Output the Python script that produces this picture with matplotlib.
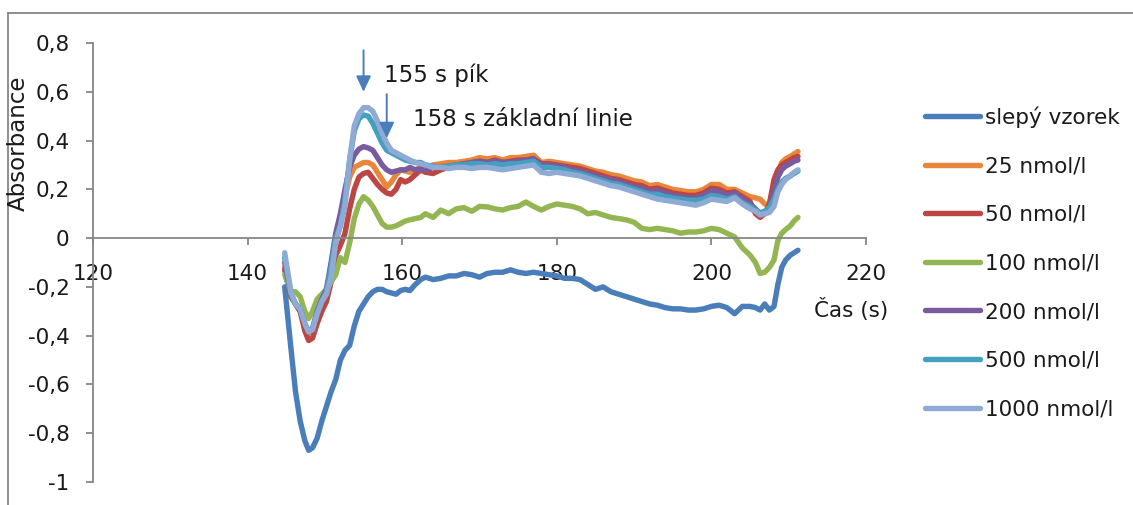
import matplotlib
matplotlib.use("Agg")
import matplotlib.pyplot as plt
from matplotlib.lines import Line2D

# Sampling times (s)
time_s = [
    144.8, 145.6, 146.2, 146.8, 147.4, 147.9, 148.4, 149.0, 149.6, 150.2,
    150.8, 151.4, 152.0, 152.6, 153.2, 153.8, 154.4, 155.0, 155.6, 156.2,
    156.8, 157.4, 158.0, 158.6, 159.2, 159.8, 160.4, 161.0, 161.7, 162.4,
    163, 164, 165, 166, 167, 168, 169, 170, 171, 172,
    173, 174, 175, 176, 177, 178, 179, 180, 181, 182,
    183, 184, 185, 186, 187, 188, 189, 190, 191, 192,
    193, 194, 195, 196, 197, 198, 199, 200, 201, 202,
    203, 204, 205,
    205.7, 206.3, 206.9, 207.5, 208.1, 208.6, 209.1, 209.6, 210.2, 210.7, 211.2,
]

blank = [
    -0.20, -0.45, -0.63, -0.75, -0.83, -0.87, -0.86, -0.82, -0.75, -0.69,
    -0.63, -0.58, -0.50, -0.46, -0.44, -0.36, -0.30, -0.27, -0.24, -0.22,
    -0.21, -0.21, -0.22, -0.225, -0.23, -0.215, -0.21, -0.215, -0.19, -0.17,
    -0.16, -0.17, -0.165, -0.155, -0.155, -0.145, -0.15, -0.16, -0.145, -0.14,
    -0.14, -0.13, -0.14, -0.145, -0.14, -0.145, -0.15, -0.155, -0.165, -0.165,
    -0.17, -0.19, -0.21, -0.20, -0.22, -0.23, -0.24, -0.25, -0.26, -0.27,
    -0.275, -0.285, -0.29, -0.29, -0.295, -0.295, -0.29, -0.28, -0.275, -0.285,
    -0.31, -0.28, -0.28,
    -0.285, -0.295, -0.27, -0.295, -0.28, -0.19, -0.12, -0.09, -0.07, -0.06, -0.05,
]

c25 = [
    -0.12, -0.24, -0.27, -0.30, -0.36, -0.39, -0.38, -0.31, -0.26, -0.22,
    -0.12, 0.0, 0.08, 0.17, 0.25, 0.29, 0.30, 0.31, 0.31, 0.30,
    0.27, 0.24, 0.21, 0.23, 0.26, 0.28, 0.275, 0.27, 0.28, 0.29,
    0.29, 0.30, 0.305, 0.31, 0.31, 0.315, 0.32, 0.33, 0.325, 0.33,
    0.32, 0.33, 0.33, 0.335, 0.34, 0.31, 0.315, 0.31, 0.305, 0.30,
    0.295, 0.285, 0.275, 0.27, 0.26, 0.255, 0.245, 0.235, 0.23, 0.215,
    0.22, 0.21, 0.20, 0.195, 0.19, 0.19, 0.20, 0.22, 0.22, 0.20,
    0.20, 0.185, 0.17,
    0.165, 0.16, 0.14, 0.135, 0.18, 0.27, 0.31, 0.325, 0.335, 0.345, 0.355,
]

c50 = [
    -0.13, -0.24, -0.27, -0.30, -0.38, -0.42, -0.41, -0.35, -0.30, -0.26,
    -0.18, -0.07, -0.03, 0.02, 0.12, 0.20, 0.25, 0.265, 0.27, 0.245,
    0.22, 0.20, 0.185, 0.18, 0.20, 0.24, 0.23, 0.24, 0.26, 0.28,
    0.27, 0.265, 0.28, 0.29, 0.30, 0.30, 0.31, 0.315, 0.31, 0.32,
    0.31, 0.315, 0.32, 0.32, 0.325, 0.305, 0.305, 0.30, 0.295, 0.29,
    0.285, 0.275, 0.265, 0.255, 0.245, 0.24, 0.23, 0.22, 0.215, 0.20,
    0.205, 0.195, 0.185, 0.18, 0.175, 0.175, 0.185, 0.205, 0.20, 0.185,
    0.19, 0.17, 0.15,
    0.10, 0.085, 0.10, 0.14, 0.24, 0.28, 0.30, 0.31, 0.32, 0.33, 0.335,
]

c100 = [
    -0.15, -0.22, -0.22, -0.24, -0.30, -0.33, -0.30, -0.25, -0.23, -0.21,
    -0.18, -0.15, -0.08, -0.10, -0.02, 0.08, 0.14, 0.17, 0.155, 0.13,
    0.095, 0.06, 0.045, 0.045, 0.05, 0.06, 0.07, 0.075, 0.08, 0.085,
    0.10, 0.085, 0.115, 0.10, 0.12, 0.125, 0.11, 0.13, 0.128, 0.12,
    0.115, 0.125, 0.13, 0.148, 0.13, 0.115, 0.13, 0.14, 0.135, 0.13,
    0.12, 0.10, 0.105, 0.095, 0.085, 0.08, 0.075, 0.065, 0.04, 0.035,
    0.04, 0.035, 0.03, 0.02, 0.025, 0.025, 0.03, 0.04, 0.035, 0.02,
    0.005, -0.04, -0.07,
    -0.10, -0.145, -0.14, -0.12, -0.09, -0.01, 0.02, 0.035, 0.05, 0.07, 0.085,
]

c200 = [
    -0.10, -0.23, -0.27, -0.29, -0.35, -0.385, -0.37, -0.30, -0.25, -0.21,
    -0.10, 0.02, 0.10, 0.20, 0.29, 0.34, 0.365, 0.375, 0.37, 0.36,
    0.33, 0.30, 0.28, 0.27, 0.275, 0.28, 0.28, 0.29, 0.28, 0.285,
    0.28, 0.29, 0.29, 0.295, 0.30, 0.305, 0.31, 0.315, 0.31, 0.315,
    0.31, 0.31, 0.315, 0.32, 0.325, 0.30, 0.30, 0.295, 0.29, 0.28,
    0.275, 0.265, 0.255, 0.245, 0.24, 0.23, 0.22, 0.21, 0.205, 0.19,
    0.195, 0.185, 0.175, 0.17, 0.165, 0.165, 0.175, 0.195, 0.19, 0.175,
    0.185, 0.16, 0.14,
    0.12, 0.10, 0.105, 0.12, 0.19, 0.25, 0.28, 0.295, 0.305, 0.315, 0.32,
]

c500 = [
    -0.08, -0.23, -0.27, -0.29, -0.35, -0.385, -0.375, -0.31, -0.26, -0.22,
    -0.12, 0.0, 0.05, 0.16, 0.32, 0.44, 0.49, 0.505, 0.50, 0.47,
    0.43, 0.39, 0.36, 0.35, 0.34, 0.33, 0.32, 0.315, 0.31, 0.31,
    0.30, 0.295, 0.29, 0.295, 0.30, 0.30, 0.305, 0.305, 0.30, 0.305,
    0.30, 0.305, 0.305, 0.31, 0.315, 0.29, 0.29, 0.285, 0.28, 0.27,
    0.265, 0.255, 0.245, 0.235, 0.225, 0.22, 0.21, 0.20, 0.19, 0.18,
    0.18, 0.17, 0.165, 0.16, 0.155, 0.155, 0.16, 0.175, 0.17, 0.16,
    0.17, 0.145, 0.13,
    0.115, 0.105, 0.11, 0.125, 0.16, 0.20, 0.23, 0.245, 0.255, 0.265, 0.275,
]

c1000 = [
    -0.06, -0.22, -0.27, -0.29, -0.35, -0.385, -0.375, -0.31, -0.26, -0.23,
    -0.16, -0.02, 0.05, 0.13, 0.32, 0.46, 0.51, 0.535, 0.535, 0.52,
    0.48, 0.43, 0.39, 0.36, 0.35, 0.34, 0.33, 0.32, 0.31, 0.305,
    0.30, 0.29, 0.29, 0.285, 0.29, 0.29, 0.285, 0.29, 0.29, 0.285,
    0.28, 0.285, 0.29, 0.295, 0.30, 0.27, 0.265, 0.27, 0.265, 0.26,
    0.255, 0.245, 0.235, 0.225, 0.215, 0.21, 0.20, 0.19, 0.18, 0.17,
    0.16, 0.155, 0.15, 0.145, 0.14, 0.135, 0.145, 0.16, 0.155, 0.15,
    0.165, 0.14, 0.12,
    0.11, 0.095, 0.10, 0.105, 0.13, 0.19, 0.22, 0.24, 0.255, 0.27, 0.28,
]

series_labels = ["slepý vzorek", "25 nmol/l", "50 nmol/l", "100 nmol/l",
                 "200 nmol/l", "500 nmol/l", "1000 nmol/l"]
series_values = [blank, c25, c50, c100, c200, c500, c1000]
series_colors = ["#4A7EBB", "#E8863A", "#BB4643", "#93B653",
                 "#7A5C9E", "#43A0BE", "#8FAAD5"]

x_ticks = [120, 140, 160, 180, 200, 220]
y_ticks = [-1, -0.8, -0.6, -0.4, -0.2, 0, 0.2, 0.4, 0.6, 0.8]

# Arrow markers: time (s), tail and head absorbance, caption
arrow_times = [155, 158]
arrow_tails = [0.77, 0.59]
arrow_heads = [0.60, 0.41]
arrow_texts = ["155 s pík", "158 s základní linie"]
arrow_text_pos = [(157.6, 0.669), (161.4, 0.488)]

W, H = 1133, 505
fig = plt.figure(figsize=(W / 100, H / 100), dpi=100)
plt.rcParams["font.family"] = ["DejaVu Sans"]
FS = 15.5
TXT = "#1a1a1a"
AXC = "#868686"

ax = fig.add_axes([93 / W, 1 - 482 / H, (866 - 93) / W, (482 - 43) / H])
ax.set_xlim(120, 220)
ax.set_ylim(-1, 0.8)

for vals, lab, col in zip(series_values, series_labels, series_colors):
    ax.plot(time_s, vals, color=col, lw=3.9, label=lab,
            solid_capstyle="round", solid_joinstyle="round", clip_on=False)

ax.spines["top"].set_visible(False)
ax.spines["right"].set_visible(False)
ax.spines["bottom"].set_position(("data", 0))
for s in ("left", "bottom"):
    ax.spines[s].set_color(AXC)
    ax.spines[s].set_linewidth(1.3)

ax.set_xticks(x_ticks)
ax.set_xticklabels([str(v) for v in x_ticks])
ax.set_yticks(y_ticks)
ax.set_yticklabels([f"{v:g}".replace(".", ",") for v in y_ticks])
ax.tick_params(axis="x", direction="out", length=5, width=1.3, color=AXC,
               pad=14, labelsize=FS, labelcolor=TXT)
ax.tick_params(axis="y", direction="out", length=5, width=1.3, color=AXC,
               pad=12, labelsize=FS, labelcolor=TXT)

for t, y0, y1 in zip(arrow_times, arrow_tails, arrow_heads):
    ax.annotate("", xy=(t, y1), xytext=(t, y0),
                arrowprops=dict(arrowstyle="-|>,head_length=0.95,head_width=0.45",
                                color="#4A7EBB", lw=1.4, shrinkA=0, shrinkB=0))
for txt, (tx, ty) in zip(arrow_texts, arrow_text_pos):
    ax.text(tx, ty, txt, fontsize=16.5, color=TXT, ha="left", va="center")

fig.text(18 / W, 1 - 143 / H, "Absorbance", rotation=90, fontsize=16.5,
         color=TXT, ha="center", va="center")
fig.text(851 / W, 1 - 310 / H, "Čas (s)", fontsize=FS, color=TXT,
         ha="center", va="center")

leg = ax.legend(loc="upper left", bbox_to_anchor=(925 / W, 1 - 106 / H),
                bbox_transform=fig.transFigure, frameon=False, fontsize=FS,
                handlelength=2.55, handletextpad=0.25, labelspacing=1.33,
                borderpad=0, borderaxespad=0)
for t in leg.get_texts():
    t.set_color(TXT)

# outer chart frame (left and top edges)
fig.add_artist(Line2D([8 / W, 8 / W], [0, 1 - 13 / H], color=AXC, lw=1.3,
                      transform=fig.transFigure))
fig.add_artist(Line2D([8 / W, 1], [1 - 13 / H, 1 - 13 / H], color=AXC, lw=1.3,
                      transform=fig.transFigure))

fig.savefig("out.png", dpi=100)
